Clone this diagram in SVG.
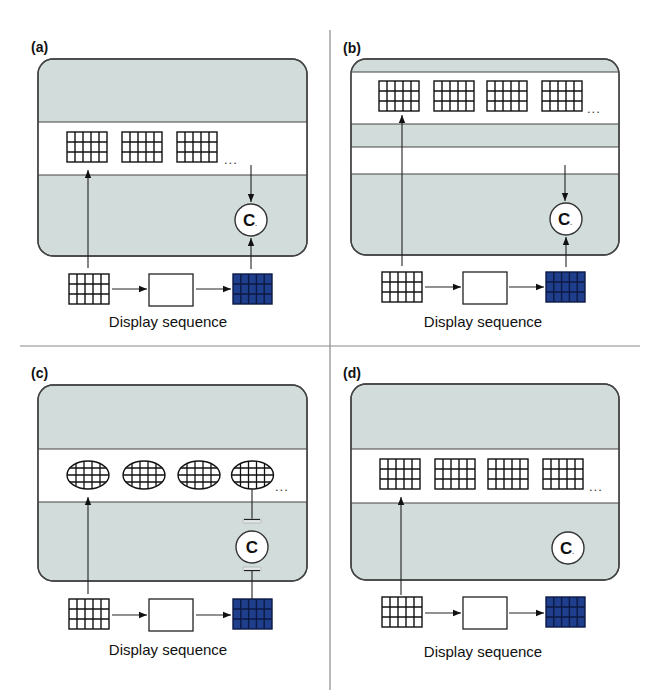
<svg xmlns="http://www.w3.org/2000/svg" xmlns:xlink="http://www.w3.org/1999/xlink" width="654" height="700" viewBox="0 0 654 700">
<style>
.bg{fill:#ffffff}
.sep{stroke:#8a8a8a;stroke-width:1.2;fill:none}
.plabel{font-family:"Liberation Sans",Arial,sans-serif;font-weight:bold;font-size:14px;fill:#111}
.box{fill:#d2dcdb;stroke:#444;stroke-width:1.4}
.boxo{fill:none;stroke:#444;stroke-width:1.4}
.band{fill:#ffffff;stroke:none}
.bline{stroke:#444;stroke-width:1.2;fill:none}
.wgrid rect{fill:#fff;stroke:#111;stroke-width:1.4}
.wgrid line{stroke:#111;stroke-width:1.4}
.bgrid rect{fill:#1f3f8d;stroke:#0c1a44;stroke-width:1.4}
.bgrid line{stroke:#0c1a44;stroke-width:1.4}
.efill{fill:#fff;stroke:none}
.eout{fill:none;stroke:#111;stroke-width:1.4}
.egrid line{stroke:#111;stroke-width:1.3}
.wbox{fill:#fff;stroke:#222;stroke-width:1.3}
.conn{stroke:#222;stroke-width:1.1;fill:none}
.arr{marker-end:url(#ah)}
.circ{fill:#fff;stroke:#333;stroke-width:1.4}
.ctext{font-family:"Liberation Sans",Arial,sans-serif;font-weight:bold;font-size:17px;fill:#111;text-anchor:middle}
.dots{font-family:"Liberation Sans",Arial,sans-serif;font-size:13px;fill:#333;letter-spacing:1px}
.cap{font-family:"Liberation Sans",Arial,sans-serif;font-size:15px;fill:#111;text-anchor:middle}
.tbar{fill:#e4e8e8;stroke:#a9b2b2;stroke-width:0.8}
</style>
<defs>
<marker id="ah" viewBox="0 0 10 10" refX="10" refY="5" markerWidth="8" markerHeight="8" markerUnits="userSpaceOnUse" orient="auto">
<path d="M0,1 L10,5 L0,9 Z" fill="#111"/>
</marker>
<g id="wg" class="wgrid">
<rect x="0" y="0" width="40" height="30"/>
<line x1="8" y1="0" x2="8" y2="30"/><line x1="16" y1="0" x2="16" y2="30"/><line x1="24" y1="0" x2="24" y2="30"/><line x1="32" y1="0" x2="32" y2="30"/>
<line x1="0" y1="10" x2="40" y2="10"/><line x1="0" y1="20" x2="40" y2="20"/>
</g>
<g id="bg" class="bgrid">
<rect x="0" y="0" width="39" height="30"/>
<line x1="7.8" y1="0" x2="7.8" y2="30"/><line x1="15.6" y1="0" x2="15.6" y2="30"/><line x1="23.4" y1="0" x2="23.4" y2="30"/><line x1="31.2" y1="0" x2="31.2" y2="30"/>
<line x1="0" y1="10" x2="39" y2="10"/><line x1="0" y1="20" x2="39" y2="20"/>
</g>
<clipPath id="eclip"><ellipse cx="0" cy="0" rx="21" ry="14"/></clipPath>
<g id="eg" class="egrid">
<ellipse class="efill" cx="0" cy="0" rx="21" ry="14"/>
<g clip-path="url(#eclip)">
<line x1="-12" y1="-14" x2="-12" y2="14"/><line x1="-4" y1="-14" x2="-4" y2="14"/><line x1="4" y1="-14" x2="4" y2="14"/><line x1="12" y1="-14" x2="12" y2="14"/>
<line x1="-21" y1="-7" x2="21" y2="-7"/><line x1="-21" y1="0" x2="21" y2="0"/><line x1="-21" y1="7" x2="21" y2="7"/>
</g>
<ellipse class="eout" cx="0" cy="0" rx="21" ry="14"/>
</g>
</defs>
<rect class="bg" x="0" y="0" width="654" height="700"/>

<g id="separators">
<line class="sep" x1="330" y1="30" x2="330" y2="690"/>
<line class="sep" x1="20" y1="346" x2="640" y2="346"/>
</g>

<!-- Panel (a) -->
<g id="panel-a">
<text class="plabel" x="31" y="52">(a)</text>
<g id="a-frame">
<rect class="box" x="38" y="59" width="269" height="197" rx="15"/>
<rect class="band" x="38.7" y="122" width="267.6" height="53"/>
<line class="bline" x1="38" y1="122" x2="307" y2="122"/>
<line class="bline" x1="38" y1="175" x2="307" y2="175"/>
<rect class="boxo" x="38" y="59" width="269" height="197" rx="15"/>
</g>
<g id="a-buffer">
<use xlink:href="#wg" x="67" y="132"/>
<use xlink:href="#wg" x="122" y="132"/>
<use xlink:href="#wg" x="177" y="132"/>
<text class="dots" x="224" y="164">...</text>
</g>
<g id="a-C"><circle class="circ" cx="251" cy="220" r="16"/><text class="ctext" x="250" y="226">C<tspan font-size="6">.</tspan></text></g>
<g id="a-seq">
<use xlink:href="#wg" x="69" y="274"/>
<rect class="wbox" x="149" y="274" width="44" height="32"/>
<use xlink:href="#bg" x="233" y="274"/>
<text class="cap" x="168" y="327">Display sequence</text>
</g>
</g>

<!-- Panel (b) -->
<g id="panel-b">
<text class="plabel" x="343" y="53">(b)</text>
<g id="b-frame">
<rect class="box" x="351" y="59" width="268" height="196" rx="15"/>
<rect class="band" x="351.7" y="72" width="266.6" height="52"/>
<rect class="band" x="351.7" y="147" width="266.6" height="27"/>
<line class="bline" x1="351" y1="72" x2="619" y2="72"/>
<line class="bline" x1="351" y1="124" x2="619" y2="124"/>
<line class="bline" x1="351" y1="147" x2="619" y2="147"/>
<line class="bline" x1="351" y1="174" x2="619" y2="174"/>
<rect class="boxo" x="351" y="59" width="268" height="196" rx="15"/>
</g>
<g id="b-buffer">
<use xlink:href="#wg" x="379" y="81"/>
<use xlink:href="#wg" x="434" y="81"/>
<use xlink:href="#wg" x="487" y="81"/>
<use xlink:href="#wg" x="542" y="81"/>
<text class="dots" x="587" y="113">...</text>
</g>
<g id="b-C"><circle class="circ" cx="566" cy="219" r="16"/><text class="ctext" x="565" y="225">C<tspan font-size="6">.</tspan></text></g>
<g id="b-seq">
<use xlink:href="#wg" x="382" y="272"/>
<rect class="wbox" x="463" y="272" width="44" height="32"/>
<use xlink:href="#bg" x="546" y="272"/>
<text class="cap" x="483" y="327">Display sequence</text>
</g>
</g>

<!-- Panel (c) -->
<g id="panel-c">
<text class="plabel" x="31" y="378">(c)</text>
<g id="c-frame">
<rect class="box" x="38" y="385" width="269" height="196" rx="15"/>
<rect class="band" x="38.7" y="449" width="267.6" height="53"/>
<line class="bline" x1="38" y1="449" x2="307" y2="449"/>
<line class="bline" x1="38" y1="502" x2="307" y2="502"/>
<rect class="boxo" x="38" y="385" width="269" height="196" rx="15"/>
</g>
<g id="c-buffer">
<use xlink:href="#eg" x="88" y="475"/>
<use xlink:href="#eg" x="144" y="475"/>
<use xlink:href="#eg" x="199" y="475"/>
<use xlink:href="#eg" x="252.5" y="475"/>
<text class="dots" x="275" y="491">...</text>
</g>
<g id="c-C"><circle class="circ" cx="252" cy="547" r="16"/><text class="ctext" x="252" y="553">C</text></g>
<g id="c-seq">
<use xlink:href="#wg" x="69" y="599"/>
<rect class="wbox" x="149" y="599" width="44" height="32"/>
<use xlink:href="#bg" x="233" y="599"/>
<text class="cap" x="168" y="655">Display sequence</text>
</g>
</g>

<!-- Panel (d) -->
<g id="panel-d">
<text class="plabel" x="343" y="378">(d)</text>
<g id="d-frame">
<rect class="box" x="351" y="384" width="268" height="196" rx="15"/>
<rect class="band" x="351.7" y="449" width="266.6" height="54"/>
<line class="bline" x1="351" y1="449" x2="619" y2="449"/>
<line class="bline" x1="351" y1="503" x2="619" y2="503"/>
<rect class="boxo" x="351" y="384" width="268" height="196" rx="15"/>
</g>
<g id="d-buffer">
<use xlink:href="#wg" x="380" y="459"/>
<use xlink:href="#wg" x="435" y="459"/>
<use xlink:href="#wg" x="488" y="459"/>
<use xlink:href="#wg" x="543" y="459"/>
<text class="dots" x="589" y="491">...</text>
</g>
<g id="d-C"><circle class="circ" cx="568" cy="548" r="16"/><text class="ctext" x="567" y="554">C<tspan font-size="6">.</tspan></text></g>
<g id="d-seq">
<use xlink:href="#wg" x="382" y="597"/>
<rect class="wbox" x="463" y="597" width="44" height="32"/>
<use xlink:href="#bg" x="546" y="597"/>
<text class="cap" x="483" y="657">Display sequence</text>
</g>
</g>

<g id="connectors">
<!-- (a) -->
<line class="conn arr" x1="88" y1="268" x2="88" y2="170"/>
<line class="conn arr" x1="251" y1="165" x2="251" y2="202"/>
<line class="conn arr" x1="251" y1="269" x2="251" y2="238"/>
<line class="conn arr" x1="112" y1="289" x2="147" y2="289"/>
<line class="conn arr" x1="196" y1="289" x2="231" y2="289"/>
<!-- (b) -->
<line class="conn arr" x1="402" y1="266" x2="402" y2="115"/>
<line class="conn arr" x1="565" y1="165" x2="565" y2="201"/>
<line class="conn arr" x1="566" y1="267" x2="566" y2="237"/>
<line class="conn arr" x1="425" y1="287" x2="461" y2="287"/>
<line class="conn arr" x1="509" y1="287" x2="544" y2="287"/>
<!-- (c) -->
<line class="conn arr" x1="88" y1="594" x2="88" y2="497"/>
<line class="conn" x1="252" y1="489" x2="252" y2="519"/>
<rect class="tbar" x="243" y="519" width="18" height="4" rx="1"/>
<line class="conn" x1="244" y1="519.5" x2="260" y2="519.5" stroke-width="1.4"/>
<rect class="tbar" x="243" y="567" width="18" height="4" rx="1"/>
<line class="conn" x1="244" y1="570.5" x2="260" y2="570.5" stroke-width="1.4"/>
<line class="conn" x1="252" y1="571" x2="252" y2="599"/>
<line class="conn arr" x1="112" y1="615" x2="147" y2="615"/>
<line class="conn arr" x1="196" y1="615" x2="231" y2="615"/>
<!-- (d) -->
<line class="conn arr" x1="401" y1="595" x2="401" y2="497"/>
<line class="conn arr" x1="425" y1="613" x2="461" y2="613"/>
<line class="conn arr" x1="509" y1="613" x2="544" y2="613"/>
</g>
</svg>
